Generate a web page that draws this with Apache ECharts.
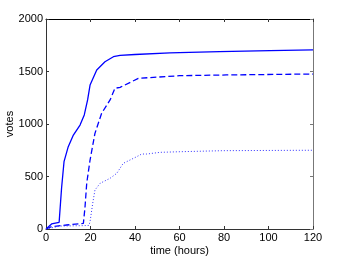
<!DOCTYPE html>
<html><head><meta charset="utf-8">
<script src="https://cdn.jsdelivr.net/npm/echarts@6/dist/echarts.min.js"></script>
<style>html,body{margin:0;padding:0;background:#fff}#c{width:346px;height:258px}</style>
</head><body><div id="c"></div>
<script>
const xTicks = [0, 20, 40, 60, 80, 100, 120];
const yTicks = [0, 500, 1000, 1500, 2000];
const solidT = [0, 2.5, 5.9, 7, 8.1, 10, 12.3, 15.3, 17.2, 18.7, 19.8, 22.8, 26.5, 30.3, 33.3, 40, 55.7, 60, 78, 100.7, 120];
const solidV = [0, 48, 64, 390, 641, 784, 895, 990, 1086, 1229, 1371, 1514, 1593, 1641, 1653, 1662, 1678, 1680, 1689, 1698, 1705];
const dashT = [0, 2.5, 9.3, 16.8, 17.5, 18.3, 19.8, 22, 25, 28.8, 31, 33.3, 41.5, 42.2, 60, 81, 120];
const dashV = [0, 22, 38, 54, 200, 435, 657, 911, 1102, 1229, 1340, 1349, 1435, 1441, 1460, 1467, 1476];
const dotT = [0, 6.3, 16.8, 19.3, 19.8, 21, 22, 24.3, 28.8, 31.8, 34.7, 40.8, 43, 45.3, 51.2, 60.2, 79.7, 120];
const dotV = [0, 28, 32, 34, 70, 245, 371, 435, 483, 530, 625, 689, 714, 714, 730, 736, 746, 750];

function pairs(t, v) { return t.map((x, i) => [x, v[i]]); }
const axisColor = '#333';
const font = 'Liberation Sans, Arial, sans-serif';
const plain = v => String(v);
const chart = echarts.init(document.getElementById('c'));
chart.setOption({
  animation: false,
  grid: { left: 46, right: 33, top: 19, bottom: 29, containLabel: false, outerBoundsMode: 'none' },
  xAxis: [
    { type: 'value', min: xTicks[0], max: xTicks[xTicks.length - 1], interval: 20,
      name: 'time (hours)', nameLocation: 'middle', nameGap: 16, nameMoveOverlap: false,
      nameTextStyle: { color: '#000', fontSize: 11, fontFamily: font },
      axisLine: { onZero: false, lineStyle: { color: axisColor } },
      axisTick: { inside: true, length: 3, lineStyle: { color: axisColor } },
      axisLabel: { color: '#000', fontSize: 11, fontFamily: font, margin: 3, formatter: plain },
      splitLine: { show: false } },
    { type: 'value', position: 'top', min: xTicks[0], max: xTicks[xTicks.length - 1], interval: 20,
      axisLine: { onZero: false, lineStyle: { color: '#000' } },
      axisTick: { inside: true, length: 3, lineStyle: { color: axisColor } },
      axisLabel: { show: false }, splitLine: { show: false } }
  ],
  yAxis: [
    { type: 'value', min: yTicks[0], max: yTicks[yTicks.length - 1], interval: 500,
      name: 'votes', nameLocation: 'middle', nameGap: 31, nameRotate: 90, nameMoveOverlap: false,
      nameTextStyle: { color: '#000', fontSize: 11, fontFamily: font },
      axisLine: { show: true, onZero: false, lineStyle: { color: axisColor } },
      axisTick: { show: true, inside: true, length: 3, lineStyle: { color: axisColor } },
      axisLabel: { color: '#000', fontSize: 11, fontFamily: font, margin: 3, formatter: plain },
      splitLine: { show: false } },
    { type: 'value', position: 'right', min: yTicks[0], max: yTicks[yTicks.length - 1], interval: 500,
      axisLine: { show: true, onZero: false, lineStyle: { color: '#777' } },
      axisTick: { show: true, inside: true, length: 3, lineStyle: { color: '#777' } },
      axisLabel: { show: false }, splitLine: { show: false } }
  ],
  series: [
    { type: 'line', data: pairs(solidT, solidV), showSymbol: false, symbol: 'none',
      lineStyle: { color: '#0000ff', width: 1.3, type: 'solid' } },
    { type: 'line', data: pairs(dashT, dashV), showSymbol: false, symbol: 'none',
      lineStyle: { color: '#0000ff', width: 1.3, type: [6, 3] } },
    { type: 'line', data: pairs(dotT, dotV), showSymbol: false, symbol: 'none',
      lineStyle: { color: '#3333ff', width: 1, type: [1, 2] } }
  ]
});
</script></body></html>
